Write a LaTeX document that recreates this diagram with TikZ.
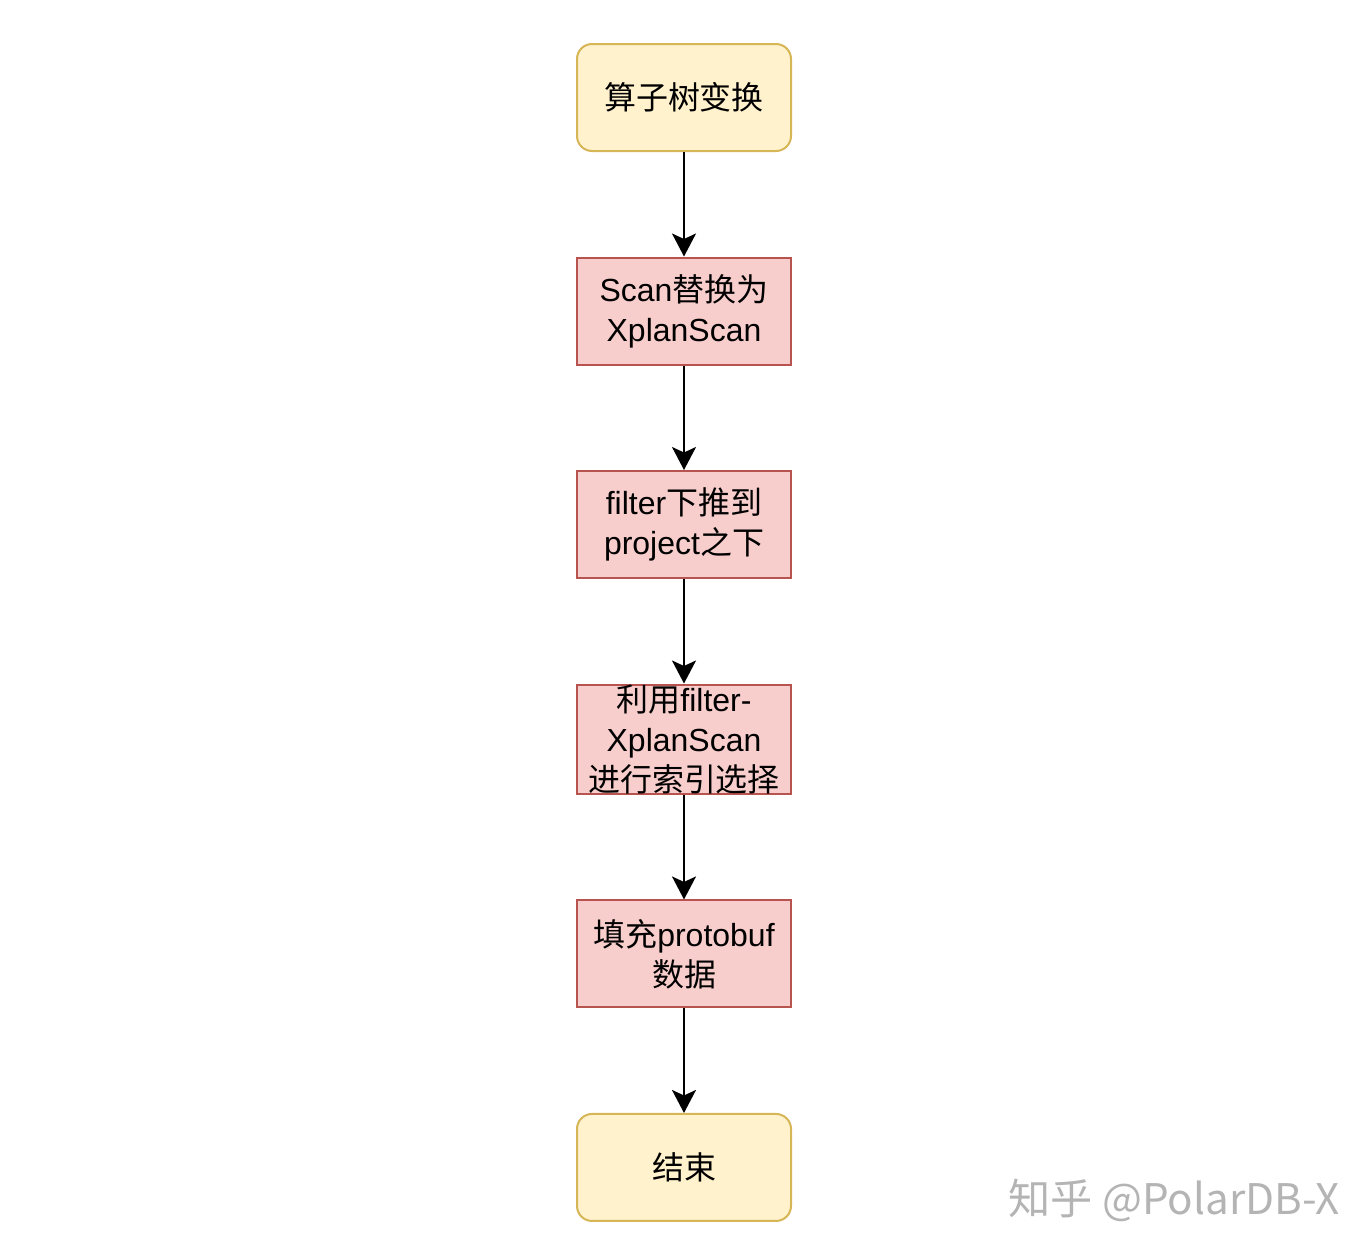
\documentclass[tikz,border=0pt]{standalone}
\usepackage{fontspec}
\setmainfont{Liberation Sans}
\newfontfamily\cjk{Noto Sans CJK SC}
\usetikzlibrary{positioning,arrows.meta}
\definecolor{termfill}{HTML}{FFF2CC}
\definecolor{termdraw}{HTML}{D6B656}
\definecolor{stepfill}{HTML}{F8CECC}
\definecolor{stepdraw}{HTML}{B85450}
\definecolor{markgray}{HTML}{B4B4B4}
\tikzset{
    box/.style={draw,line width=0.04cm,minimum width=4.28cm,minimum height=2.14cm,
        inner sep=0pt,align=center,font=\fontsize{18.2}{22.8}\selectfont},
    term/.style={box,rounded corners=0.3cm,fill=termfill,draw=termdraw},
    stepbox/.style={box,fill=stepfill,draw=stepdraw},
    flow/.style={draw,line width=0.04cm,-{Stealth[length=0.46cm,width=0.48cm,inset=0.11cm]}}
}

\begin{document}
\begin{tikzpicture}[node distance=2.09cm]
    \useasboundingbox (0,0) rectangle (27.44,-25.16);
    \node[term] (start) at (13.68,-1.95) {{\cjk 算子树变换}};
    \node[stepbox,below=of start] (scan) {Scan{\cjk 替换为}\\XplanScan};
    \node[stepbox,below=of scan] (push) {filter{\cjk 下推到}\\project{\cjk 之下}};
    \node[stepbox,below=of push] (index) {{\cjk 利用}filter-\\XplanScan\\{\cjk 进行索引选择}};
    \node[stepbox,below=of index] (fill) {{\cjk 填充}protobuf\\{\cjk 数据}};
    \node[term,below=of fill] (stop) {{\cjk 结束}};
    % arrows
    \foreach \a/\b in {start/scan,scan/push,push/index,index/fill,fill/stop}
        \draw[flow] (\a) -- (\b);
    % watermark
    \node[text=markgray,font=\cjk\fontsize{24}{28}\selectfont] (mark) at (23.48,-24.0) {知乎 @PolarDB-X};
\end{tikzpicture}
\end{document}
